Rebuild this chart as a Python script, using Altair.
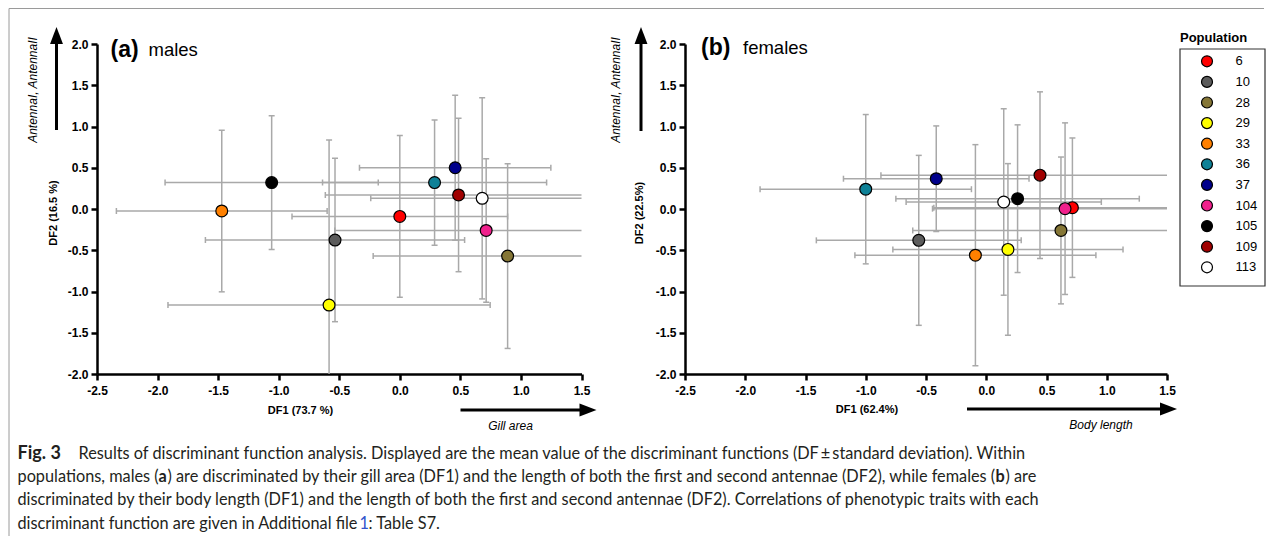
import altair as alt
import pandas as pd

# ---------------- data ----------------
populations = ["6", "10", "28", "29", "33", "36", "37", "104", "105", "109", "113"]
pop_colors = ["#ff0000", "#5c5c5c", "#857636", "#ffff00", "#ff8000", "#0e8197",
              "#00008b", "#f0208c", "#000000", "#a00000", "#ffffff"]

# males (a)
m_df1 = [0.00, -0.535, 0.89, -0.584, -1.47, 0.287, 0.457, 0.713, -1.058, 0.485, 0.68]
m_df2 = [-0.09, -0.376, -0.57, -1.164, -0.024, 0.32, 0.50, -0.26, 0.32, 0.17, 0.13]
m_sd1 = [0.89, 1.07, 1.11, 1.33, 0.87, 0.925, 0.79, 1.25, 0.88, 1.10, 0.92]
m_sd2 = [0.98, 0.99, 1.12, 2.00, 0.98, 0.76, 0.88, 0.87, 0.81, 0.93, 1.22]

# females (b)
f_df1 = [0.715, -0.56, 0.62, 0.18, -0.09, -1.00, -0.415, 0.654, 0.26, 0.446, 0.145]
f_df2 = [0.016, -0.38, -0.26, -0.49, -0.56, 0.24, 0.367, 0.004, 0.125, 0.41, 0.085]
f_sd1 = [1.15, 0.85, 1.23, 0.955, 1.00, 0.877, 0.77, 1.10, 1.01, 1.32, 0.81]
f_sd2 = [0.845, 1.03, 0.89, 1.04, 1.34, 0.905, 0.64, 1.04, 0.895, 1.01, 1.13]

x_ticks = [-2.5, -2.0, -1.5, -1.0, -0.5, 0.0, 0.5, 1.0, 1.5]
y_ticks = [-2.0, -1.5, -1.0, -0.5, 0.0, 0.5, 1.0, 1.5, 2.0]

caption_l1 = ["Fig. 3", "Results of discriminant function analysis. Displayed are the mean value of the discriminant functions (DF\u2009\u00b1\u2009standard deviation). Within"]
caption_l2 = ["populations, males (", "a", ") are discriminated by their gill area (DF1) and the length of both the first and second antennae (DF2), while females (", "b", ") are"]
caption_l3 = ["discriminated by their body length (DF1) and the length of both the first and second antennae (DF2). Correlations of phenotypic traits with each"]
caption_l4 = ["discriminant function are given in Additional file ", "1", ": Table S7."]

PF = "Liberation Sans"
CF = "Lato"
CS = 16.3
CC = "#231f20"
GRAY = "#a9a9a9"
ONE = pd.DataFrame({"t": [""]})


def txt(s, x, y, size, weight="normal", style="normal", angle=0, align="left",
        baseline="alphabetic", color="black", font=PF):
    return alt.Chart(pd.DataFrame({"t": [s]})).mark_text(
        font=font, fontSize=size, fontWeight=weight, fontStyle=style, angle=angle,
        align=align, baseline=baseline, color=color
    ).encode(text="t:N", x=alt.value(x), y=alt.value(y))


def vline(x, y1, y2, w, color="black"):
    return alt.Chart(ONE).mark_rule(strokeWidth=w, color=color).encode(
        x=alt.value(x), y=alt.value(y1), y2=alt.value(y2))


def hline(x1, x2, y, w, color="black"):
    return alt.Chart(ONE).mark_rule(strokeWidth=w, color=color).encode(
        x=alt.value(x1), x2=alt.value(x2), y=alt.value(y))


def head(x, y, shape, size=289):
    return alt.Chart(ONE).mark_point(shape=shape, filled=True, color="black",
                                     size=size, opacity=1).encode(
        x=alt.value(x), y=alt.value(y))


UP = "M-0.76,1L0,-1L0.76,1Z"
RIGHT = "M-1,-0.76L1,0L-1,0.76Z"

xscale = alt.Scale(domain=[-2.5, 1.5], nice=False, zero=False)
yscale = alt.Scale(domain=[-2.0, 2.0], nice=False, zero=False)
lab = "(datum.value < 0 ? '-' : '') + format(abs(datum.value), '.1f')"
xaxis = alt.Axis(values=x_ticks, labelExpr=lab, title=None, labelPadding=5,
                 labelFlush=False, labelOverlap=False)
yaxis = alt.Axis(values=y_ticks, labelExpr=lab, title=None, labelPadding=3,
                 labelFlush=False, labelOverlap=False)


def panel(x, y, s1, s2, legend):
    df = pd.DataFrame({"pop": populations, "x": x, "y": y, "s1": s1, "s2": s2})
    base = alt.Chart(df).transform_calculate(
        xlo="datum.x - datum.s1", xhi="datum.x + datum.s1",
        ylo="datum.y - datum.s2", yhi="datum.y + datum.s2")
    X = lambda f: alt.X(f, type="quantitative", scale=xscale, axis=xaxis)
    Y = lambda f: alt.Y(f, type="quantitative", scale=yscale, axis=yaxis)
    hb = base.mark_rule(clip=True, color=GRAY, strokeWidth=1.5).encode(
        x=X("xlo"), x2="xhi:Q", y=Y("y"))
    vb = base.mark_rule(clip=True, color=GRAY, strokeWidth=1.5).encode(
        x=X("x"), y=Y("ylo"), y2="yhi:Q")
    caps = [
        base.mark_tick(orient="vertical", clip=True, color=GRAY, size=6,
                       thickness=1.5, opacity=1).encode(x=X(f), y=Y("y"))
        for f in ("xlo", "xhi")
    ] + [
        base.mark_tick(orient="horizontal", clip=True, color=GRAY, size=6,
                       thickness=1.5, opacity=1).encode(x=X("x"), y=Y(f))
        for f in ("ylo", "yhi")
    ]
    pts = base.mark_circle(size=140, stroke="black", strokeWidth=1.2,
                           opacity=1).encode(
        x=X("x"), y=Y("y"),
        color=alt.Color("pop:N", scale=alt.Scale(domain=populations, range=pop_colors),
                        legend=legend))
    return [hb, vb] + caps + [pts]


# ---------------- panel (a) ----------------
WA, HA = 484.5, 330
layers_a = panel(m_df1, m_df2, m_sd1, m_sd2, None)
ann_a = [
    # outer frame (left and top edges)
    vline(-88, -35.5, 492, 1, "#9a9a9a"),
    hline(-88, 1167, -35.5, 1, "#9a9a9a"),
    txt("(a)", 13.5, 12.5, 23, weight="bold"),
    txt("males", 51.5, 12, 18.5),
    vline(-40.5, 86, -2, 3), head(-40.5, -8.5, UP),
    txt("AntennaI, AntennaII", -64.5, 46, 12, style="italic", angle=270,
        align="center", baseline="middle"),
    txt("DF2 (16.5 %)", -43.5, 169, 11, weight="bold", angle=270,
        align="center", baseline="middle"),
    txt("DF1 (73.7 %)", 203.5, 367, 11, weight="bold", align="center",
        baseline="middle"),
    hline(363.5, 484, 366, 3), head(491, 366, RIGHT),
    txt("Gill area", 413.5, 382, 12, style="italic", align="center",
        baseline="middle"),
    # caption
    txt(caption_l1[0], -79.5, 415, 18, weight="bold", font=CF, color=CC),
    txt(caption_l1[1], -18.5, 415, CS, font=CF, color=CC),
    txt(caption_l2[0], -79.5, 438, CS, font=CF, color=CC),
    txt(caption_l2[1], 61.5, 438, CS, weight="bold", font=CF, color=CC),
    txt(caption_l2[2], 70.5, 438, CS, font=CF, color=CC),
    txt(caption_l2[3], 898.5, 438, CS, weight="bold", font=CF, color=CC),
    txt(caption_l2[4], 908.5, 438, CS, font=CF, color=CC),
    txt(caption_l3[0], -79.5, 461, CS, font=CF, color=CC),
    txt(caption_l4[0], -79.5, 485, CS, font=CF, color=CC),
    txt(caption_l4[1], 262.5, 485, CS, font=CF, color="#3355cc"),
    txt(caption_l4[2], 271.5, 485, CS, font=CF, color=CC),
]
chart_a = alt.layer(*layers_a, *ann_a).properties(width=WA, height=HA)

# ---------------- panel (b) ----------------
WB, HB = 482, 330
legend_b = alt.Legend(orient="none", legendX=515.5, legendY=10.8, title=None,
                      symbolType="circle", symbolSize=120, symbolStrokeColor="black",
                      symbolStrokeWidth=1.2, symbolOpacity=1, labelFont=PF,
                      labelFontSize=13, labelColor="black", labelOffset=22,
                      rowPadding=3.6, padding=0)
layers_b = panel(f_df1, f_df2, f_sd1, f_sd2, legend_b)
box = alt.Chart(ONE).mark_rect(fill=None, stroke="#333333", strokeWidth=1.2).encode(
    x=alt.value(495), x2=alt.value(580), y=alt.value(5), y2=alt.value(242))
ann_b = [
    txt("(b)", 16, 10.5, 23, weight="bold"),
    txt("females", 58, 10, 18.5),
    vline(-44, 87, -2, 3), head(-44, -8.5, UP),
    txt("AntennaI, AntennaII", -69, 46, 12, style="italic", angle=270,
        align="center", baseline="middle"),
    txt("DF2 (22.5%)", -45, 169, 11, weight="bold", angle=270,
        align="center", baseline="middle"),
    txt("DF1 (62.4%)", 182, 366, 11, weight="bold", align="center",
        baseline="middle"),
    hline(282, 484, 365, 3), head(483.5, 365, RIGHT),
    txt("Body length", 416, 381, 12, style="italic", align="center",
        baseline="middle"),
    box,
    txt("Population", 495, -2, 13, weight="bold"),
]
chart_b = alt.layer(*layers_b, *ann_b).properties(width=WB, height=HB)

chart = alt.hconcat(chart_a, chart_b, spacing=103, bounds="flush").resolve_scale(
    color="independent"
).properties(padding=0).configure_view(stroke=None).configure_axis(
    domainColor="black", domainWidth=2.5, tickColor="black", tickWidth=2.5,
    tickSize=6, labelFont=PF, labelFontWeight="bold", labelFontSize=12,
    labelColor="black", grid=False
)

chart.save("out.html", embed_options={"renderer": "svg", "actions": False})
